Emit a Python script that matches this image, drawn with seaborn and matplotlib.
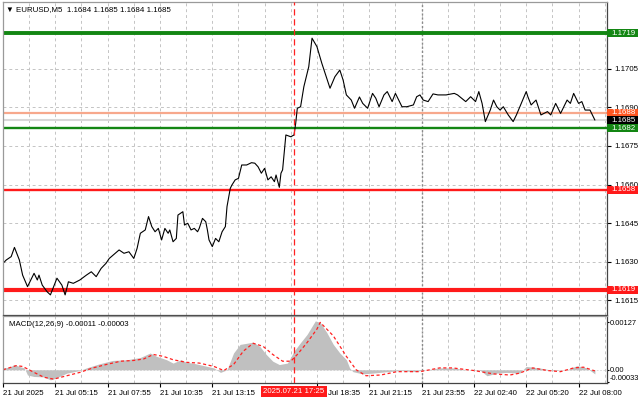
import matplotlib
matplotlib.use('Agg')
import matplotlib.pyplot as plt
import matplotlib.transforms as mtransforms
from matplotlib.patches import Rectangle
import pandas as pd
import seaborn as sns

# ---------------- data ----------------
price_idx = [0, 2, 5, 7, 10, 12, 15, 19, 21, 22, 24, 27, 29, 33, 36, 38, 40, 43, 47, 51,
             54, 57, 60, 63, 65, 71, 74, 77, 80, 82, 84, 87, 89, 91, 93, 95, 97, 99, 101, 102,
             104, 106, 107, 110, 111, 113, 115, 117, 119, 120, 122, 124, 125, 126, 128, 130, 132, 134, 136, 137,
             139, 140, 142, 144, 146, 149, 152, 154, 156, 158, 160, 162, 164, 166, 167, 169, 170, 171, 173, 176,
             178, 179, 180, 182, 184, 187, 189, 192, 195, 198, 200, 203, 206, 208, 210, 213, 215, 218, 220, 223,
             226, 228, 230, 233, 235, 238, 240, 244, 247, 251, 253, 255, 257, 260, 263, 266, 271, 276, 278, 283,
             286, 289, 291, 293, 295, 298, 300, 302, 304, 306, 309, 312, 314, 317, 320, 321, 323, 326, 329, 333,
             335, 338, 341, 345, 347, 349, 352, 354, 356, 359, 362]
price_val = [1.16293, 1.16306, 1.16319, 1.16355, 1.16306, 1.16247, 1.16202, 1.16254, 1.16228, 1.16247,
             1.16208, 1.16182, 1.16170, 1.16235, 1.16208, 1.16170, 1.16221, 1.16215, 1.16228, 1.16247,
             1.16260, 1.16241, 1.16273, 1.16293, 1.16312, 1.16345, 1.16332, 1.16338, 1.16312, 1.16351,
             1.16410, 1.16423, 1.16475, 1.16436, 1.16416, 1.16429, 1.16384, 1.16429, 1.16410, 1.16423,
             1.16377, 1.16390, 1.16481, 1.16494, 1.16442, 1.16449, 1.16423, 1.16429, 1.16416, 1.16429,
             1.16468, 1.16455, 1.16423, 1.16384, 1.16358, 1.16390, 1.16377, 1.16416, 1.16436, 1.16514,
             1.16585, 1.16598, 1.16618, 1.16624, 1.16676, 1.16676, 1.16685, 1.16683, 1.16669, 1.16644,
             1.16663, 1.16618, 1.16630, 1.16611, 1.16637, 1.16589, 1.16644, 1.16657, 1.16793, 1.16786,
             1.16793, 1.16838, 1.16897, 1.16903, 1.16981, 1.17059, 1.17170, 1.17137, 1.17072, 1.17014,
             1.16975, 1.17020, 1.17046, 1.17007, 1.16949, 1.16929, 1.16897, 1.16941, 1.16916, 1.16897,
             1.16955, 1.16936, 1.16903, 1.16949, 1.16962, 1.16923, 1.16955, 1.16903, 1.16903, 1.16910,
             1.16942, 1.16949, 1.16929, 1.16923, 1.16953, 1.16949, 1.16949, 1.16955, 1.16949, 1.16923,
             1.16942, 1.16923, 1.16962, 1.16916, 1.16845, 1.16890, 1.16929, 1.16903, 1.16890, 1.16903,
             1.16871, 1.16845, 1.16871, 1.16916, 1.16962, 1.16942, 1.16910, 1.16929, 1.16871, 1.16884,
             1.16871, 1.16916, 1.16877, 1.16929, 1.16916, 1.16955, 1.16916, 1.16923, 1.16890, 1.16890,
             1.16851]

hist_idx = [0, 4, 7, 10, 13, 15, 19, 25, 29, 32, 39, 47, 51, 59, 67, 76, 84, 90, 94, 100,
            104, 109, 112, 116, 120, 129, 133, 137, 141, 145, 153, 157, 161, 165, 169, 174, 178, 182, 186, 191,
            194, 198, 202, 206, 210, 212, 214, 220, 226, 235, 243, 251, 259, 267, 275, 284, 292, 296, 302, 308,
            316, 320, 328, 337, 345, 351, 357, 362]
hist_val = [0.00005, 0.00007, 0.00014, 0.00009, 0.00005, -0.00014, -0.00018, -0.00019, -0.00027, -0.00023,
            -0.00009, -0.00002, 0.00005, 0.00016, 0.00025, 0.00027, 0.00033, 0.00045, 0.00036, 0.00027,
            0.00018, 0.00027, 0.00020, 0.00018, 0.00014, 0.00005, -0.00007, 0.0, 0.00045, 0.00068,
            0.00074, 0.00063, 0.00041, 0.00023, 0.00014, 0.00018, 0.00050, 0.00073, 0.00095, 0.00131,
            0.00127, 0.00100, 0.00068, 0.00045, 0.00027, 0.00005, -0.00005, -0.00011, -0.00009, -0.00005,
            -0.00002, -0.00005, 0.0, 0.00005, 0.00005, 0.0, -0.00002, -0.00016, -0.00009, -0.00007,
            -0.00009, 0.00009, 0.00005, -0.00002, 0.0, 0.00011, 0.00005, -0.00011]

signal_idx = [0, 8, 12, 19, 25, 31, 39, 47, 55, 63, 72, 80, 86, 92, 98, 104, 112, 120, 129, 135,
              141, 147, 153, 159, 165, 171, 176, 180, 186, 192, 194, 202, 210, 216, 222, 231, 241, 255, 267, 275,
              288, 300, 310, 316, 324, 333, 341, 349, 355, 362]
signal_val = [0.0, 0.00011, 0.00009, -0.00007, -0.00020, -0.00025, -0.00016, -0.00007, 0.00005, 0.00014,
              0.00023, 0.00025, 0.00029, 0.00041, 0.00036, 0.00027, 0.00020, 0.00018, 0.00009, -0.00002,
              0.00014, 0.00050, 0.00071, 0.00063, 0.00041, 0.00023, 0.00023, 0.00041, 0.00073, 0.00109,
              0.00127, 0.00091, 0.00036, 0.0, -0.00016, -0.00014, -0.00005, -0.00005, 0.00005, 0.00005,
              -0.00002, -0.00011, -0.00014, -0.00009, 0.00005, -0.00002, -0.00005, 0.00005, 0.00007, -0.00003]

level_values = [1.1719, 1.1688, 1.1685, 1.1682, 1.1658, 1.1619]
level_labels = ['1.1719', '1.1688', '1.1685', '1.1682', '1.1658', '1.1619']

price_ticks = [1.1615, 1.1630, 1.1645, 1.1660, 1.1675, 1.1690, 1.1705]
price_tick_labels = ['1.1615', '1.1630', '1.1645', '1.1660', '1.1675', '1.1690', '1.1705']

time_tick_idx = [0, 32, 64, 96, 128, 192, 224, 256, 288, 320, 352]
time_tick_labels = ['21 Jul 2025', '21 Jul 05:15', '21 Jul 07:55', '21 Jul 10:35', '21 Jul 13:15',
                    '21 Jul 18:35', '21 Jul 21:15', '21 Jul 23:55', '22 Jul 02:40', '22 Jul 05:20',
                    '22 Jul 08:00']
marker_idx = 178
marker_label = '2025.07.21 17:25'
day_break_idx = 256

macd_ticks = [0.00127, 0.0, -0.00033]
macd_tick_labels = ['0.00127', '0.00', '-0.00033']

title_text = '\u25bc EURUSD,M5  1.1684 1.1685 1.1684 1.1685'
macd_title = 'MACD(12,26,9) -0.00011 -0.00003'

# ---------------- styles ----------------
level_line_colors = ['#138613', '#f7a88c', '#d8d8d8', '#138613', '#ff1a1a', '#ff1a1a']
level_line_widths = [2.8, 1.6, 1.5, 1.7, 1.7, 3.0]
level_box_colors = ['#138613', '#ff5722', '#000000', '#138613', '#ff1a1a', '#ff1a1a']

sns.set_style('white')
plt.rcParams['font.family'] = ['Liberation Sans', 'DejaVu Sans']
FS = 5.7
GRID = '#c4c4c4'

W, H = 640, 401
fig = plt.figure(figsize=(W / 100, H / 100), dpi=100)


def px_rect(l, t, r, b):
    return [l / W, 1 - b / H, (r - l) / W, (b - t) / H]


ax = fig.add_axes(px_rect(3, 2, 607, 315))
axm = fig.add_axes(px_rect(3, 316, 607, 383))

XMAX = 369.4
for a in (ax, axm):
    a.set_xlim(0, XMAX)
    a.set_facecolor('white')
    for s in ('left', 'top'):
        a.spines[s].set_color('#9a9a9a')
        a.spines[s].set_linewidth(0.9)
    for s in ('right', 'bottom'):
        a.spines[s].set_color('#444444')
        a.spines[s].set_linewidth(0.9)
    for k in range(1, 24):
        a.axvline(16 * k, color=GRID, lw=0.7, dashes=(3, 3), zorder=0)
    a.axvline(day_break_idx, color='#8a8a8a', lw=1.0, dashes=(1.5, 1.5), zorder=0.5)
    a.axvline(marker_idx, color='#ff2020', lw=0.9, dashes=(5, 3), zorder=3)

# ---- main price panel ----
ax.set_ylim(1.160916, 1.17311)
for t in price_ticks:
    ax.axhline(t, color=GRID, lw=0.7, dashes=(3, 3), zorder=0)

for v, c, lw in zip(level_values, level_line_colors, level_line_widths):
    ax.axhline(v, color=c, lw=lw, zorder=1.5)

price_df = pd.DataFrame({'idx': price_idx, 'price': price_val})
sns.lineplot(data=price_df, x='idx', y='price', ax=ax, color='black', lw=0.8,
             estimator=None, sort=False, zorder=2)

ax.yaxis.tick_right()
ax.set_yticks(price_ticks)
ax.set_yticklabels(price_tick_labels)
ax.tick_params(axis='y', right=True, length=3, width=0.8, pad=2, labelsize=FS, colors='black')
ax.tick_params(axis='x', bottom=False, labelbottom=False)
ax.set_xlabel('')
ax.set_ylabel('')

trans = mtransforms.blended_transform_factory(ax.transAxes, ax.transData)
box_w = 31 / 604
box_h = 8 * 3.896e-5
for v, lab, c in zip(level_values, level_labels, level_box_colors):
    ax.add_patch(Rectangle((1.0, v - box_h / 2), box_w, box_h, transform=trans,
                           facecolor=c, edgecolor='none', clip_on=False, zorder=6))
    ax.text(1.0 + 4 / 604, v, lab, transform=trans, ha='left', va='center',
            color='white', fontsize=FS, zorder=7, clip_on=False)

fig.text(6 / W, 1 - 9.5 / H, title_text, ha='left', va='center', fontsize=FS,
         color='black', family=['Liberation Sans', 'DejaVu Sans'])

# ---- MACD panel ----
axm.set_ylim(-0.000354, 0.001441)
axm.fill_between(hist_idx, 0, hist_val, color='#c0c0c0', lw=0, zorder=1)
axm.axhline(0, color='#d4d4d4', lw=0.6, dashes=(2, 2), zorder=0.8)
sig_df = pd.DataFrame({'idx': signal_idx, 'signal': signal_val})
sns.lineplot(data=sig_df, x='idx', y='signal', ax=axm, color='#ff2020', lw=0.9,
             linestyle=(0, (2.5, 2)), estimator=None, sort=False, zorder=2)

axm.yaxis.tick_right()
axm.set_yticks(macd_ticks)
axm.set_yticklabels(macd_tick_labels)
axm.tick_params(axis='y', right=True, length=1.5, width=0.8, pad=0.5, labelsize=5.4, colors='black')
ylabels = axm.get_yticklabels()
ylabels[-1].set_va('bottom')
axm.set_xticks(time_tick_idx)
axm.set_xticklabels(time_tick_labels)
axm.tick_params(axis='x', bottom=True, length=3, width=0.8, pad=2, labelsize=FS, colors='black')
for lbl in axm.get_xticklabels():
    lbl.set_ha('left')
axm.set_xlabel('')
axm.set_ylabel('')

axm.text(6 / 604, 1 - 9 / 67, macd_title, transform=axm.transAxes, ha='left', va='center',
         fontsize=FS, color='black')

# red time marker label
mtrans = mtransforms.blended_transform_factory(axm.transData, fig.transFigure)
axm.text(marker_idx, 1 - 391.5 / H, marker_label, transform=mtrans, ha='center', va='center',
         color='white', fontsize=FS, zorder=8, clip_on=False,
         bbox=dict(boxstyle='square,pad=0.3', fc='#ff1a1a', ec='none'))

fig.savefig('out.png', dpi=100, facecolor='white')
